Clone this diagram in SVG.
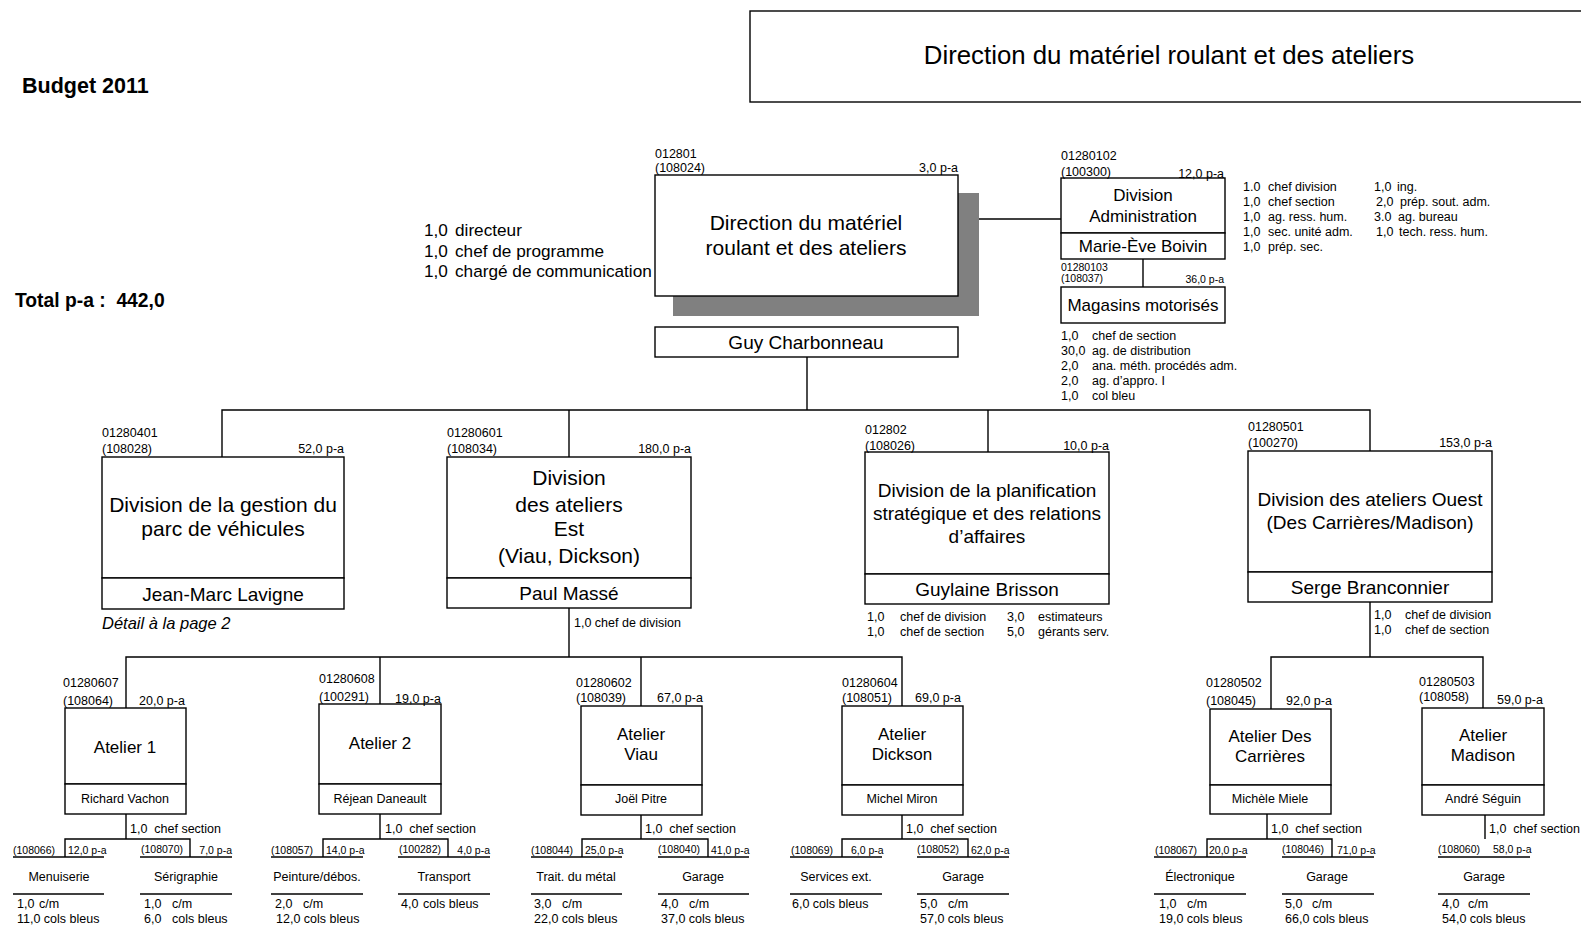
<svg xmlns="http://www.w3.org/2000/svg" width="1581" height="927" viewBox="0 0 1581 927" xml:space="preserve">
<style>
text{font-family:"Liberation Sans",Arial,sans-serif;fill:#000;white-space:pre}
.b{fill:#fff;stroke:#000;stroke-width:1.4}
.l{stroke:#000;stroke-width:1.4;fill:none}
.m{text-anchor:middle}
.e{text-anchor:end}
.f25{font-size:25.8px}
.f21{font-size:21px}
.f19{font-size:19px}
.f17{font-size:17px}
.f16{font-size:17.2px}
.f12{font-size:12.5px}
.f11{font-size:10.5px}
.bold{font-weight:bold}
</style>
<rect width="1581" height="927" fill="#fff"/>

<g id="title">
<rect class="b" x="750" y="11" width="840" height="91"/>
<text class="f25 m" x="1169" y="64">Direction du matériel roulant et des ateliers</text>
</g>
<g id="budget">
<text class="bold" style="font-size:21.5px" x="22" y="93">Budget 2011</text>
<text class="bold" style="font-size:19.3px" x="15" y="307">Total p-a :  442,0</text>
</g>

<g id="connectors">
<line class="l" x1="958" y1="219" x2="1061" y2="219"/>
<line class="l" x1="1143" y1="259" x2="1143" y2="287"/>
<line class="l" x1="807" y1="357" x2="807" y2="410"/>
<polyline class="l" points="222,457 222,410 1370,410 1370,451"/>
<line class="l" x1="569" y1="410" x2="569" y2="457"/>
<line class="l" x1="988" y1="410" x2="988" y2="452"/>
<line class="l" x1="569" y1="608" x2="569" y2="657"/>
<polyline class="l" points="126,708 126,657 902,657 902,706"/>
<line class="l" x1="380" y1="657" x2="380" y2="704"/>
<line class="l" x1="641" y1="657" x2="641" y2="706"/>
<line class="l" x1="1370" y1="602" x2="1370" y2="657"/>
<polyline class="l" points="1271,709 1271,657 1483,657 1483,708"/>
<line class="l" x1="126" y1="814" x2="126" y2="839"/>
<polyline class="l" points="65,857 65,839 190,839 190,857"/>
<line class="l" x1="380" y1="814" x2="380" y2="839"/>
<polyline class="l" points="323,857 323,839 448,839 448,857"/>
<line class="l" x1="641" y1="815" x2="641" y2="839"/>
<polyline class="l" points="582,857 582,839 708,839 708,857"/>
<line class="l" x1="902" y1="815" x2="902" y2="839"/>
<polyline class="l" points="842,857 842,839 968,839 968,857"/>
<line class="l" x1="1267" y1="814" x2="1267" y2="839"/>
<polyline class="l" points="1207,857 1207,839 1332,839 1332,857"/>
<line class="l" x1="1485" y1="815" x2="1485" y2="839"/>
</g>

<g id="direction">
<rect x="673" y="193" width="306" height="123" fill="#808080"/>
<rect class="b" x="655" y="175" width="303" height="121"/>
<text class="f12" x="655" y="158">012801</text>
<text class="f12" x="655" y="172">(108024)</text>
<text class="f12 e" x="958" y="172">3,0 p-a</text>
<text class="f21 m" x="806" y="230">Direction du matériel</text>
<text class="f21 m" x="806" y="255">roulant et des ateliers</text>
<rect class="b" x="655" y="327" width="303" height="30"/>
<text class="f19 m" x="806" y="349">Guy Charbonneau</text>
<text class="f16" x="424" y="236">1,0</text><text class="f16" x="455" y="236">directeur</text>
<text class="f16" x="424" y="256.5">1,0</text><text class="f16" x="455" y="256.5">chef de programme</text>
<text class="f16" x="424" y="277">1,0</text><text class="f16" x="455" y="277">chargé de communication</text>
</g>

<g id="administration">
<rect class="b" x="1061" y="178" width="164" height="55"/>
<rect class="b" x="1061" y="233" width="164" height="26"/>
<text class="f12" x="1061" y="160">01280102</text>
<text class="f12" x="1061" y="176">(100300)</text>
<text class="f12 e" x="1224" y="178">12,0 p-a</text>
<text class="f17 m" x="1143" y="201">Division</text>
<text class="f17 m" x="1143" y="222">Administration</text>
<text class="f17 m" x="1143" y="252">Marie-Ève Boivin</text>
<text class="f12" x="1243" y="191">1.0</text><text class="f12" x="1268" y="191">chef division</text>
<text class="f12" x="1243" y="206">1,0</text><text class="f12" x="1268" y="206">chef section</text>
<text class="f12" x="1243" y="221">1,0</text><text class="f12" x="1268" y="221">ag. ress. hum.</text>
<text class="f12" x="1243" y="236">1,0</text><text class="f12" x="1268" y="236">sec. unité adm.</text>
<text class="f12" x="1243" y="251">1,0</text><text class="f12" x="1268" y="251">prép. sec.</text>
<text class="f12" x="1374" y="191">1,0</text><text class="f12" x="1397" y="191">ing.</text>
<text class="f12" x="1376" y="206">2,0</text><text class="f12" x="1400" y="206">prép. sout. adm.</text>
<text class="f12" x="1374" y="221">3.0</text><text class="f12" x="1398" y="221">ag. bureau</text>
<text class="f12" x="1376" y="236">1,0</text><text class="f12" x="1399" y="236">tech. ress. hum.</text>
</g>

<g id="magasins">
<rect class="b" x="1061" y="287" width="164" height="36"/>
<text class="f11" x="1061" y="271">01280103</text>
<text class="f11" x="1061" y="282">(108037)</text>
<text class="f11 e" x="1224" y="283">36,0 p-a</text>
<text class="f17 m" x="1143" y="311">Magasins motorisés</text>
<text class="f12" x="1061" y="340">1,0</text><text class="f12" x="1092" y="340">chef de section</text>
<text class="f12" x="1061" y="355">30,0</text><text class="f12" x="1092" y="355">ag. de distribution</text>
<text class="f12" x="1061" y="370">2,0</text><text class="f12" x="1092" y="370">ana. méth. procédés adm.</text>
<text class="f12" x="1061" y="385">2,0</text><text class="f12" x="1092" y="385">ag. d’appro. I</text>
<text class="f12" x="1061" y="400">1,0</text><text class="f12" x="1092" y="400">col bleu</text>
</g>

<g id="div-gestion">
<rect class="b" x="102" y="457" width="242" height="121"/>
<rect class="b" x="102" y="578" width="242" height="31"/>
<text class="f12" x="102" y="437">01280401</text>
<text class="f12" x="102" y="453">(108028)</text>
<text class="f12 e" x="344" y="453">52,0 p-a</text>
<text class="f21 m" x="223" y="512">Division de la gestion du</text>
<text class="f21 m" x="223" y="536">parc de véhicules</text>
<text class="f19 m" x="223" y="601">Jean-Marc Lavigne</text>
<text class="f16" style="font-size:16.5px" x="102" y="629" font-style="italic">Détail à la page 2</text>
</g>

<g id="div-est">
<rect class="b" x="447" y="457" width="244" height="121"/>
<rect class="b" x="447" y="578" width="244" height="30"/>
<text class="f12" x="447" y="437">01280601</text>
<text class="f12" x="447" y="453">(108034)</text>
<text class="f12 e" x="691" y="453">180,0 p-a</text>
<text class="f21 m" x="569" y="485">Division</text>
<text class="f21 m" x="569" y="512">des ateliers</text>
<text class="f21 m" x="569" y="536">Est</text>
<text class="f21 m" x="569" y="563">(Viau, Dickson)</text>
<text class="f19 m" x="569" y="600">Paul Massé</text>
<text class="f12" x="574" y="627">1,0 chef de division</text>
</g>

<g id="div-planification">
<rect class="b" x="865" y="452" width="244" height="122"/>
<rect class="b" x="865" y="574" width="244" height="30"/>
<text class="f12" x="865" y="434">012802</text>
<text class="f12" x="865" y="450">(108026)</text>
<text class="f12 e" x="1109" y="450">10,0 p-a</text>
<text class="f19 m" x="987" y="497">Division de la planification</text>
<text class="f19 m" x="987" y="520">stratégique et des relations</text>
<text class="f19 m" x="987" y="543">d’affaires</text>
<text class="f19 m" x="987" y="596">Guylaine Brisson</text>
<text class="f12" x="867" y="621">1,0</text><text class="f12" x="900" y="621">chef de division</text>
<text class="f12" x="867" y="636">1,0</text><text class="f12" x="900" y="636">chef de section</text>
<text class="f12" x="1007" y="621">3,0</text><text class="f12" x="1038" y="621">estimateurs</text>
<text class="f12" x="1007" y="636">5,0</text><text class="f12" x="1038" y="636">gérants serv.</text>
</g>

<g id="div-ouest">
<rect class="b" x="1248" y="451" width="244" height="121"/>
<rect class="b" x="1248" y="572" width="244" height="30"/>
<text class="f12" x="1248" y="431">01280501</text>
<text class="f12" x="1248" y="447">(100270)</text>
<text class="f12 e" x="1492" y="447">153,0 p-a</text>
<text class="f19 m" x="1370" y="506">Division des ateliers Ouest</text>
<text class="f19 m" x="1370" y="529">(Des Carrières/Madison)</text>
<text class="f19 m" x="1370" y="594">Serge Branconnier</text>
<text class="f12" x="1374" y="619">1,0</text><text class="f12" x="1405" y="619">chef de division</text>
<text class="f12" x="1374" y="634">1,0</text><text class="f12" x="1405" y="634">chef de section</text>
</g>

<g id="atelier-1">
<rect class="b" x="65" y="708" width="121" height="76"/>
<rect class="b" x="65" y="784" width="121" height="30"/>
<text class="f12" x="63" y="687">01280607</text>
<text class="f12" x="63" y="705">(108064)</text>
<text class="f12" x="139" y="705">20,0 p-a</text>
<text class="f17 m" x="125" y="753">Atelier 1</text>
<text class="f12 m" x="125" y="802.5">Richard Vachon</text>
<text class="f12" x="130" y="833">1,0  chef section</text>
</g>
<g id="atelier-2">
<rect class="b" x="319" y="704" width="122" height="80"/>
<rect class="b" x="319" y="784" width="122" height="30"/>
<text class="f12" x="319" y="683">01280608</text>
<text class="f12" x="319" y="701">(100291)</text>
<text class="f12" x="395" y="703">19,0 p-a</text>
<text class="f17 m" x="380" y="749">Atelier 2</text>
<text class="f12 m" x="380" y="802.5">Réjean Daneault</text>
<text class="f12" x="385" y="833">1,0  chef section</text>
</g>
<g id="atelier-viau">
<rect class="b" x="581" y="706" width="121" height="79"/>
<rect class="b" x="581" y="785" width="121" height="30"/>
<text class="f12" x="576" y="687">01280602</text>
<text class="f12" x="576" y="702">(108039)</text>
<text class="f12" x="657" y="702">67,0 p-a</text>
<text class="f17 m" x="641" y="740">Atelier</text>
<text class="f17 m" x="641" y="760">Viau</text>
<text class="f12 m" x="641" y="802.5">Joël Pitre</text>
<text class="f12" x="645" y="833">1,0  chef section</text>
</g>
<g id="atelier-dickson">
<rect class="b" x="842" y="706" width="121" height="79"/>
<rect class="b" x="842" y="785" width="121" height="30"/>
<text class="f12" x="842" y="687">01280604</text>
<text class="f12" x="842" y="702">(108051)</text>
<text class="f12" x="915" y="702">69,0 p-a</text>
<text class="f17 m" x="902" y="740">Atelier</text>
<text class="f17 m" x="902" y="760">Dickson</text>
<text class="f12 m" x="902" y="802.5">Michel Miron</text>
<text class="f12" x="906" y="833">1,0  chef section</text>
</g>
<g id="atelier-carrieres">
<rect class="b" x="1210" y="709" width="121" height="76"/>
<rect class="b" x="1210" y="785" width="121" height="29"/>
<text class="f12" x="1206" y="687">01280502</text>
<text class="f12" x="1206" y="705">(108045)</text>
<text class="f12" x="1286" y="705">92,0 p-a</text>
<text class="f17 m" x="1270" y="742">Atelier Des</text>
<text class="f17 m" x="1270" y="762">Carrières</text>
<text class="f12 m" x="1270" y="802.5">Michèle Miele</text>
<text class="f12" x="1271" y="833">1,0  chef section</text>
</g>
<g id="atelier-madison">
<rect class="b" x="1422" y="708" width="122" height="77"/>
<rect class="b" x="1422" y="785" width="122" height="30"/>
<text class="f12" x="1419" y="686">01280503</text>
<text class="f12" x="1419" y="701">(108058)</text>
<text class="f12" x="1497" y="704">59,0 p-a</text>
<text class="f17 m" x="1483" y="741">Atelier</text>
<text class="f17 m" x="1483" y="761">Madison</text>
<text class="f12 m" x="1483" y="802.5">André Séguin</text>
<text class="f12" x="1489" y="833">1,0  chef section</text>
</g>

<g id="u-menuiserie">
<line class="l" x1="13" y1="857" x2="104" y2="857"/><line class="l" x1="13" y1="894" x2="104" y2="894"/>
<text class="f11" x="13" y="854">(108066)</text><text class="f11" x="68" y="854">12,0 p-a</text>
<text class="f12 m" x="59" y="880.5">Menuiserie</text>
<text class="f12" x="17" y="908">1,0</text><text class="f12" x="39" y="908">c/m</text>
<text class="f12" x="17" y="923">11,0 cols bleus</text>
</g>
<g id="u-serigraphie">
<line class="l" x1="140" y1="857" x2="232" y2="857"/><line class="l" x1="140" y1="894" x2="232" y2="894"/>
<text class="f11" x="141" y="853">(108070)</text><text class="f11 e" x="232" y="854">7,0 p-a</text>
<text class="f12 m" x="186" y="880.5">Sérigraphie</text>
<text class="f12" x="144" y="908">1,0</text><text class="f12" x="172" y="908">c/m</text>
<text class="f12" x="144" y="923">6,0</text><text class="f12" x="172" y="923">cols bleus</text>
</g>
<g id="u-peinture">
<line class="l" x1="271" y1="857" x2="363" y2="857"/><line class="l" x1="271" y1="894" x2="363" y2="894"/>
<text class="f11" x="271" y="854">(108057)</text><text class="f11" x="326" y="854">14,0 p-a</text>
<text class="f12 m" x="317" y="880.5">Peinture/débos.</text>
<text class="f12" x="275" y="908">2,0</text><text class="f12" x="303" y="908">c/m</text>
<text class="f12" x="276" y="923">12,0 cols bleus</text>
</g>
<g id="u-transport">
<line class="l" x1="398" y1="857" x2="490" y2="857"/><line class="l" x1="398" y1="894" x2="490" y2="894"/>
<text class="f11" x="399" y="853">(100282)</text><text class="f11 e" x="490" y="854">4,0 p-a</text>
<text class="f12 m" x="444" y="880.5">Transport</text>
<text class="f12" x="401" y="908">4,0</text><text class="f12" x="423" y="908">cols bleus</text>
</g>
<g id="u-metal">
<line class="l" x1="531" y1="857" x2="622" y2="857"/><line class="l" x1="531" y1="894" x2="622" y2="894"/>
<text class="f11" x="531" y="854">(108044)</text><text class="f11" x="585" y="854">25,0 p-a</text>
<text class="f12 m" x="576" y="880.5">Trait. du métal</text>
<text class="f12" x="534" y="908">3,0</text><text class="f12" x="562" y="908">c/m</text>
<text class="f12" x="534" y="923">22,0 cols bleus</text>
</g>
<g id="u-garage-viau">
<line class="l" x1="658" y1="857" x2="749" y2="857"/><line class="l" x1="658" y1="894" x2="749" y2="894"/>
<text class="f11" x="658" y="853">(108040)</text><text class="f11" x="711" y="854">41,0 p-a</text>
<text class="f12 m" x="703" y="880.5">Garage</text>
<text class="f12" x="661" y="908">4,0</text><text class="f12" x="689" y="908">c/m</text>
<text class="f12" x="661" y="923">37,0 cols bleus</text>
</g>
<g id="u-services">
<line class="l" x1="790" y1="857" x2="882" y2="857"/><line class="l" x1="790" y1="894" x2="882" y2="894"/>
<text class="f11" x="791" y="854">(108069)</text><text class="f11" x="851" y="854">6,0 p-a</text>
<text class="f12 m" x="836" y="880.5">Services ext.</text>
<text class="f12" x="792" y="908">6,0 cols bleus</text>
</g>
<g id="u-garage-dickson">
<line class="l" x1="917" y1="857" x2="1009" y2="857"/><line class="l" x1="917" y1="894" x2="1009" y2="894"/>
<text class="f11" x="917" y="853">(108052)</text><text class="f11" x="971" y="854">62,0 p-a</text>
<text class="f12 m" x="963" y="880.5">Garage</text>
<text class="f12" x="920" y="908">5,0</text><text class="f12" x="948" y="908">c/m</text>
<text class="f12" x="920" y="923">57,0 cols bleus</text>
</g>
<g id="u-electronique">
<line class="l" x1="1154" y1="857" x2="1246" y2="857"/><line class="l" x1="1154" y1="894" x2="1246" y2="894"/>
<text class="f11" x="1155" y="854">(108067)</text><text class="f11" x="1209" y="854">20,0 p-a</text>
<text class="f12 m" x="1200" y="880.5">Électronique</text>
<text class="f12" x="1159" y="908">1,0</text><text class="f12" x="1187" y="908">c/m</text>
<text class="f12" x="1159" y="923">19,0 cols bleus</text>
</g>
<g id="u-garage-carrieres">
<line class="l" x1="1282" y1="857" x2="1374" y2="857"/><line class="l" x1="1282" y1="894" x2="1374" y2="894"/>
<text class="f11" x="1282" y="853">(108046)</text><text class="f11" x="1337" y="854">71,0 p-a</text>
<text class="f12 m" x="1327" y="880.5">Garage</text>
<text class="f12" x="1285" y="908">5,0</text><text class="f12" x="1312" y="908">c/m</text>
<text class="f12" x="1285" y="923">66,0 cols bleus</text>
</g>
<g id="u-garage-madison">
<line class="l" x1="1438" y1="857" x2="1530" y2="857"/><line class="l" x1="1438" y1="894" x2="1530" y2="894"/>
<text class="f11" x="1438" y="853">(108060)</text><text class="f11" x="1493" y="853">58,0 p-a</text>
<text class="f12 m" x="1484" y="880.5">Garage</text>
<text class="f12" x="1442" y="908">4,0</text><text class="f12" x="1468" y="908">c/m</text>
<text class="f12" x="1442" y="923">54,0 cols bleus</text>
</g>
</svg>
